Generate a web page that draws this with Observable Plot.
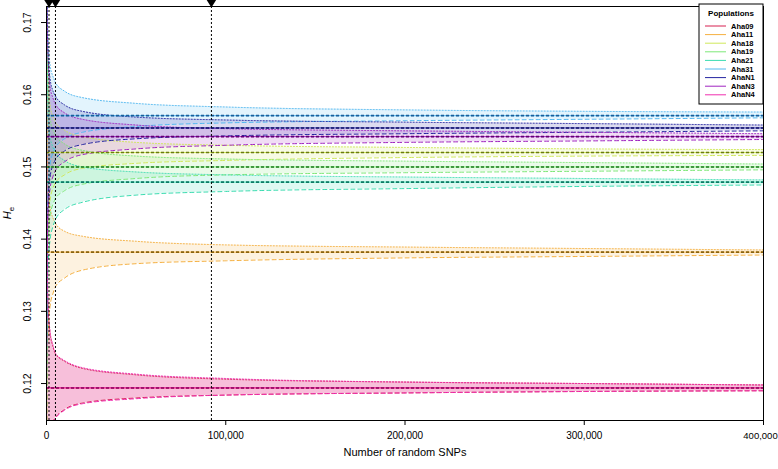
<!DOCTYPE html>
<html><head><meta charset="utf-8">
<script src="https://cdn.jsdelivr.net/npm/d3@7"></script>
<script src="https://cdn.jsdelivr.net/npm/@observablehq/plot@0.6"></script>
<style>
body{margin:0;background:#fff;}
#chart svg{display:block;font-family:"Liberation Sans",Arial,Helvetica,sans-serif;}
</style></head><body><div id="chart"></div>
<script>
// ---- data ----
const populations = ["Aha09","Aha11","Aha18","Aha19","Aha21","Aha31","AhaN1","AhaN3","AhaN4"];
const bandColors  = ["#d62050","#f5b040","#cfe85a","#7ee878","#3adcb0","#52b8f0","#2424a0","#a024c0","#f030b0"];
const meanColors  = ["#8b0a2a","#8a6410","#6b7a10","#1e7a1e","#107a66","#1a5e9a","#10106a","#640074","#a0106e"];
const means       = [0.1194, 0.1382, 0.1520, 0.1500, 0.1479, 0.1571, 0.1554, 0.1542, 0.1194];
const snpCounts   = [100, 500, 1000, 2000, 3500, 5000, 10000, 20000, 50000, 100000, 200000, 300000, 400000];
// upper (dotted) and lower (dashed) limits, offsets from the mean in units of 1e-4
const upAha09 = [320,150,105,76,58,47,37,27,18,12,8,6,4];
const loAha09 = [-280,-122,-80,-59,-47,-41,-30,-21,-14,-10,-7,-5,-4];
const upAha11 = [300,140,90,62,48,40,29,22,15,10,7,5,3];
const loAha11 = [-320,-160,-105,-75,-58,-48,-36,-25,-16,-12,-8,-6,-4];
const upAha18 = [290,135,92,66,50,42,31,22,14,10,7,5,4];
const loAha18 = [-290,-135,-92,-66,-50,-42,-31,-22,-15,-11,-7,-5,-4];
const upAha19 = [300,140,95,68,52,44,32,23,15,11,8,6,4];
const loAha19 = [-300,-140,-95,-68,-52,-44,-33,-24,-16,-11,-8,-6,-4];
const upAha21 = [280,130,88,64,49,41,30,21,14,10,7,5,3];
const loAha21 = [-330,-160,-110,-80,-62,-52,-38,-28,-18,-13,-9,-6,-4];
const upAha31 = [320,150,100,70,55,46,34,25,17,12,8,6,5];
const loAha31 = [-300,-140,-95,-68,-52,-44,-32,-23,-15,-10,-7,-5,-3];
const upAhaN1 = [300,140,95,68,52,44,32,23,15,11,8,6,4];
const loAhaN1 = [-300,-140,-95,-68,-52,-44,-32,-23,-15,-11,-8,-6,-4];
const upAhaN3 = [310,145,98,70,54,45,33,24,16,11,8,6,4];
const loAhaN3 = [-320,-150,-100,-72,-56,-47,-35,-25,-17,-12,-8,-6,-4];
const upAhaN4 = [330,160,110,78,60,48,38,28,19,13,8,6,4];
const loAhaN4 = [-280,-125,-82,-60,-48,-42,-31,-22,-15,-10,-7,-5,-4];
const markerSnps = [1400, 5000, 92000];
const xTicks = [0, 100000, 200000, 300000, 400000];
const yTicks = [0.12, 0.13, 0.14, 0.15, 0.16, 0.17];
const yDomain = [0.11488, 0.17222];
const xLabel = "Number of random SNPs";
const legendTitle = "Populations";

const ups = [upAha09,upAha11,upAha18,upAha19,upAha21,upAha31,upAhaN1,upAhaN3,upAhaN4];
const los = [loAha09,loAha11,loAha18,loAha19,loAha21,loAha31,loAhaN1,loAhaN3,loAhaN4];

const rows = [];
populations.forEach((p, i) => {
  snpCounts.forEach((n, j) => {
    rows.push({pop: p, i, n, hi: means[i] + ups[i][j] * 1e-4, lo: means[i] + los[i][j] * 1e-4});
  });
});
const meanRows = populations.map((p, i) => ({pop: p, i, m: means[i]}));

const downTri = {draw(ctx, size) {const s = Math.sqrt(size) * 0.9; ctx.moveTo(-s, -s * 0.8); ctx.lineTo(s, -s * 0.8); ctx.lineTo(0, s * 0.8); ctx.closePath();}};
const fmt = d3.format(",");
const lastTick = xTicks[xTicks.length - 1];

const marks = [];
populations.forEach((p, i) => {
  const d = rows.filter(r => r.i === i);
  marks.push(Plot.areaY(d, {x: "n", y1: "lo", y2: "hi", fill: bandColors[i], fillOpacity: 0.16, curve: "monotone-x", clip: true}));
});
populations.forEach((p, i) => {
  const d = rows.filter(r => r.i === i);
  marks.push(Plot.line(d, {x: "n", y: "hi", stroke: bandColors[i], strokeWidth: 1, strokeDasharray: "1,2", curve: "monotone-x", clip: true}));
  marks.push(Plot.line(d, {x: "n", y: "lo", stroke: bandColors[i], strokeWidth: 1, strokeDasharray: "4,3", curve: "monotone-x", clip: true}));
});
populations.forEach((p, i) => {
  const d = [meanRows[i]];
  marks.push(Plot.ruleY(d, {y: "m", stroke: bandColors[i], strokeWidth: 1, clip: true}));
  marks.push(Plot.ruleY(d, {y: "m", stroke: meanColors[i], strokeWidth: 1.6, strokeDasharray: "3,2", clip: true}));
});
marks.push(Plot.ruleX(markerSnps, {x: d => d, stroke: "black", strokeWidth: 1, strokeDasharray: "2,2"}));
marks.push(Plot.dot(markerSnps, {x: d => d, y: () => yDomain[1], dy: -3, symbol: downTri, r: 3.2, fill: "black", stroke: "none"}));
marks.push(Plot.frame({stroke: "black", strokeWidth: 1}));
marks.push(Plot.axisX({ticks: xTicks, tickSize: 5, tickFormat: () => "", label: null}));
marks.push(Plot.text(xTicks.filter(t => t !== lastTick), {x: d => d, text: d => fmt(d), frameAnchor: "bottom", dy: 15, lineAnchor: "middle", textAnchor: "middle", fontSize: 10}));
marks.push(Plot.text([lastTick], {x: d => d, text: d => fmt(d), frameAnchor: "bottom", dy: 15, dx: -3, lineAnchor: "middle", textAnchor: "middle", fontSize: 9.5}));
marks.push(Plot.axisY({ticks: yTicks, tickSize: 5, tickFormat: () => "", label: null}));
marks.push(Plot.text(yTicks, {y: d => d, text: d => d.toFixed(2), frameAnchor: "left", dx: -19, rotate: -90, textAnchor: "middle", lineAnchor: "middle", fontSize: 10.5}));
marks.push(Plot.text([xLabel], {text: d => d, frameAnchor: "bottom", dy: 35, fontSize: 11}));

const chart = Plot.plot({
  width: 778, height: 469,
  marginLeft: 46, marginRight: 15, marginTop: 6, marginBottom: 49,
  x: {domain: [0, 400000], axis: null},
  y: {domain: yDomain, axis: null},
  style: {background: "#fff", color: "black", fontSize: "10px"},
  marks
});

// y title and legend
const svgSel = d3.select(chart);
const xr = chart.scale("x").range, yr = chart.scale("y").range;
const fLeft = Math.min(...xr), fRight = Math.max(...xr), fTop = Math.min(...yr), fBottom = Math.max(...yr);
const yt = svgSel.append("text").attr("transform", `translate(11,${(fTop + fBottom) / 2}) rotate(-90)`)
  .attr("text-anchor", "middle").attr("font-size", 11);
yt.append("tspan").attr("font-style", "italic").text("H");
yt.append("tspan").attr("font-size", 8).attr("dy", 3).text("e");

const lw = 64, lx = fRight - lw, ly = fTop - 2, lh = 100;
const lg = svgSel.append("g");
lg.append("rect").attr("x", lx).attr("y", ly).attr("width", lw).attr("height", lh).attr("fill", "white").attr("stroke", "black");
lg.append("text").attr("x", lx + lw / 2).attr("y", ly + 12).attr("text-anchor", "middle").attr("font-size", 8).attr("font-weight", "bold").text(legendTitle);
populations.forEach((p, i) => {
  const yy = ly + 22 + i * 8.6;
  lg.append("line").attr("x1", lx + 6).attr("x2", lx + 27).attr("y1", yy).attr("y2", yy).attr("stroke", bandColors[i]).attr("stroke-width", 1);
  lg.append("text").attr("x", lx + 32).attr("y", yy).attr("dy", "0.35em").attr("text-anchor", "start").attr("font-size", 7.5).attr("font-weight", "bold").text(p);
});

document.getElementById("chart").appendChild(chart);
</script>
</body></html>
